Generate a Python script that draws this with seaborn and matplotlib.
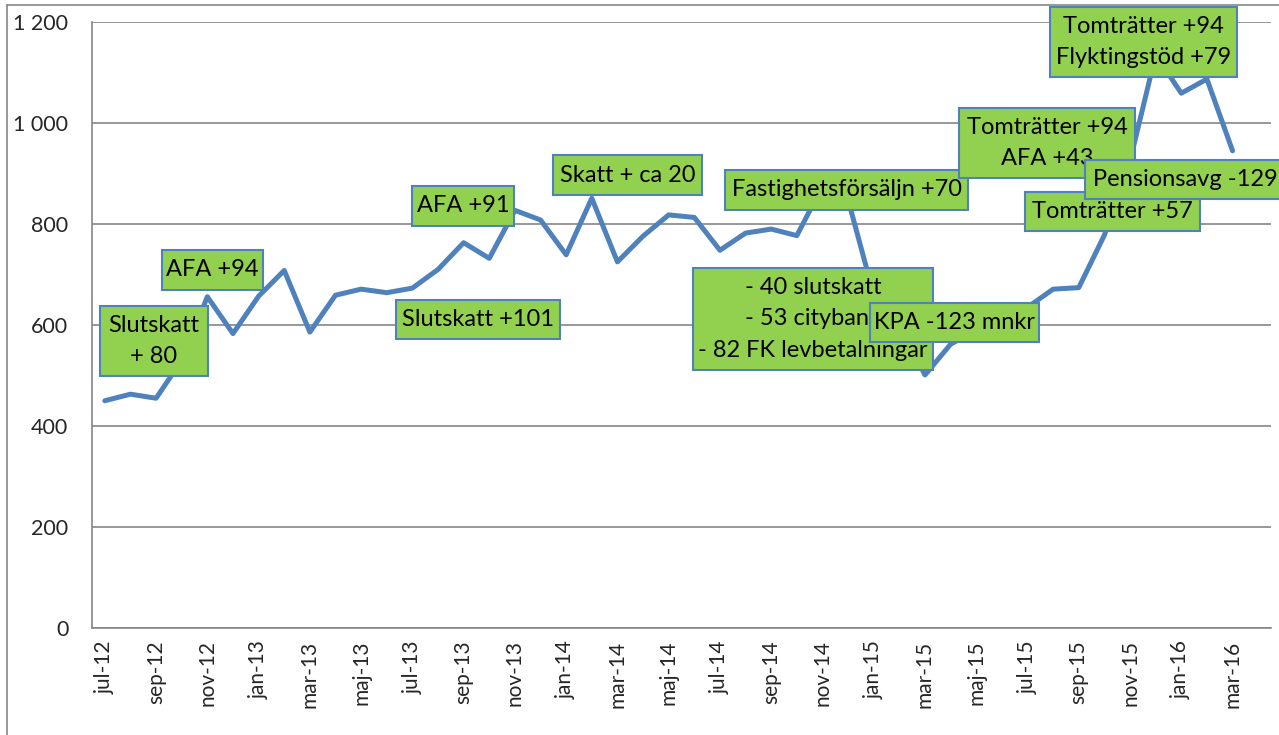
import numpy as np
import pandas as pd
import matplotlib
matplotlib.use("Agg")
import matplotlib.pyplot as plt
from matplotlib.patches import Rectangle
from matplotlib.lines import Line2D
import seaborn as sns

# Månadsdata (mnkr), jul-12 .. mar-16
months = ["jul-12", "aug-12", "sep-12", "okt-12", "nov-12", "dec-12",
          "jan-13", "feb-13", "mar-13", "apr-13", "maj-13", "jun-13",
          "jul-13", "aug-13", "sep-13", "okt-13", "nov-13", "dec-13",
          "jan-14", "feb-14", "mar-14", "apr-14", "maj-14", "jun-14",
          "jul-14", "aug-14", "sep-14", "okt-14", "nov-14", "dec-14",
          "jan-15", "feb-15", "mar-15", "apr-15", "maj-15", "jun-15",
          "jul-15", "aug-15", "sep-15", "okt-15", "nov-15", "dec-15",
          "jan-16", "feb-16", "mar-16"]
values = [450, 463, 455, 530, 656, 583,
          657, 708, 586, 659, 671, 664,
          673, 710, 763, 732, 827, 808,
          739, 851, 725, 776, 818, 813,
          748, 782, 790, 777, 875, 848,
          660, 600, 501, 562, 590, 615,
          635, 671, 674, 778, 925, 1135,
          1059, 1087, 945]
n_slots = 46  # axeln har en tom kategori efter mar-16

y_ticks = [0, 200, 400, 600, 800, 1000, 1200]
y_labels = ["0", "200", "400", "600", "800", "1 000", "1 200"]

notes = ["Slutskatt\n+ 80", "AFA +94", "Slutskatt +101", "AFA +91",
         "Skatt + ca 20", "Fastighetsförsäljn +70",
         "- 40 slutskatt\n- 53 citybana\n- 82 FK levbetalningar",
         "KPA -123 mnkr", "Tomträtter +94\nAFA +43", "Tomträtter +57",
         "Pensionsavg -129", "Tomträtter +94\nFlyktingstöd +79"]
# rutor i pixlar: vänster, topp, bredd, höjd
note_boxes = [(100, 306, 108, 70), (162, 250, 101, 40), (396, 300, 164, 39),
              (412, 186, 102, 40), (553, 155, 149, 40), (725, 170, 243, 40),
              (693, 268, 240, 102), (870, 303, 169, 39), (959, 108, 176, 70),
              (1025, 192, 175, 39), (1085, 160, 200, 39), (1050, 7, 187, 70)]

W, H = 1279, 735
LINE = "#4F81BD"
GREEN = "#92D050"
GRID = "#868686"

sns.set_style("white")
plt.rcParams["font.family"] = ["Lato", "DejaVu Sans"]

df = pd.DataFrame({"idx": np.arange(len(values)), "value": values})

fig = plt.figure(figsize=(W / 100, H / 100), dpi=100)
ax = fig.add_axes([92 / W, 1 - 628 / H, (1271 - 92) / W, (628 - 22) / H])

sns.lineplot(data=df, x="idx", y="value", ax=ax, color=LINE, linewidth=3.6)

ax.set_xlim(-0.5, n_slots - 0.5)
ax.set_ylim(0, 1200)
ax.set_xlabel("")
ax.set_ylabel("")

ax.set_yticks(y_ticks)
ax.set_yticklabels(y_labels, fontsize=15.5)
ax.yaxis.grid(True, color=GRID, linewidth=1.2)
ax.set_axisbelow(True)

lab_pos = np.arange(0, len(months), 2)
ax.set_xticks(lab_pos)
ax.set_xticklabels([months[i] for i in lab_pos], rotation=90, fontsize=15)
ax.set_xticks(np.arange(-0.5, n_slots, 2), minor=True)
ax.tick_params(axis="x", which="major", length=0, pad=9)
ax.tick_params(axis="x", which="minor", length=6, color=GRID, width=1.2)
ax.tick_params(axis="y", length=6, color=GRID, width=1.2, pad=11)

for s in ["top", "right"]:
    ax.spines[s].set_visible(False)
for s in ["left", "bottom"]:
    ax.spines[s].set_color(GRID)
    ax.spines[s].set_linewidth(1.2)

# ram runt diagrammet (vänster- och överkant syns)
fig.add_artist(Line2D([7 / W, 7 / W], [0, 1 - 5 / H], color=GRID, linewidth=1.2))
fig.add_artist(Line2D([7 / W, 1], [1 - 5 / H, 1 - 5 / H], color=GRID, linewidth=1.2))

# kommentarsrutor
for k, (txt, (bx, by, bw, bh)) in enumerate(zip(notes, note_boxes)):
    rect = Rectangle((bx / W, 1 - (by + bh) / H), bw / W, bh / H,
                     transform=fig.transFigure, facecolor=GREEN,
                     edgecolor=LINE, linewidth=1.5, zorder=5 + 2 * k)
    fig.add_artist(rect)
    fig.text((bx + bw / 2) / W, 1 - (by + bh / 2) / H, txt,
             ha="center", va="center", fontsize=17, linespacing=1.62,
             color="black", zorder=6 + 2 * k)

fig.savefig("out.png", dpi=100)
